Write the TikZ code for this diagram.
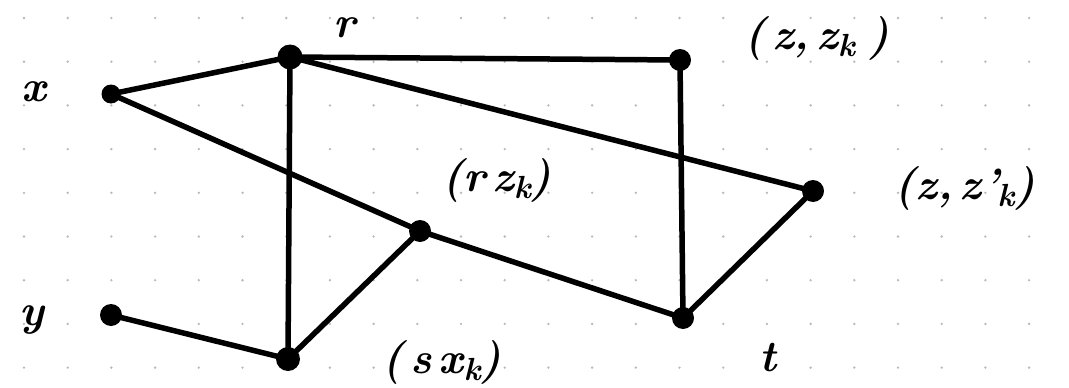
\documentclass[tikz,border=0pt]{standalone}
\usepackage{fontspec}
\newcommand{\lowk}[1]{\raisebox{-0.18em}{\fontsize{32}{32}\selectfont #1}}
\newcommand{\gp}{\hspace{7pt}}
\begin{document}
\begin{tikzpicture}[x=1pt,y=-1pt,
  vtx/.style={circle,fill=black,inner sep=0pt,minimum size=22pt},
  vsm/.style={circle,fill=black,inner sep=0pt,minimum size=19pt},
  edge/.style={line width=5.5pt,line cap=round},
  lbl/.style={font=\fontsize{44}{44}\selectfont\bfseries\itshape,inner sep=0pt}]
\useasboundingbox (0,0) rectangle (1069,388);
\fill[white] (0,0) rectangle (1069,388);
\foreach \i in {0,...,23}{\foreach \j in {0,...,8}{
  \fill[gray!55] (24+43.7*\i,18+43.7*\j) circle (1.3pt);}}
\node[vsm] (x) at (111,94) {};
\node[vtx,minimum size=25pt] (r) at (290,57) {};
\node[vtx] (zz) at (680,60) {};
\node[vtx] (zzp) at (813,191) {};
\node[vtx] (rz) at (420,231) {};
\node[vtx] (t) at (683,318) {};
\node[vtx,minimum size=24pt] (sx) at (288,359) {};
\node[vtx] (y) at (111,315) {};
\draw[edge] (x.center) -- (r.center);
\draw[edge] (x.center) -- (rz.center);
\draw[edge] (rz.center) -- (t.center);
\draw[edge] (r.center) -- (zz.center);
\draw[edge] (r.center) -- (zzp.center);
\draw[edge] (r.center) -- (sx.center);
\draw[edge] (zz.center) -- (t.center);
\draw[edge] (zzp.center) -- (t.center);
\draw[edge] (rz.center) -- (sx.center);
\draw[edge] (y.center) -- (sx.center);
\node[lbl] (lx) at (34,92) {x};
\node[lbl] (lr) at (345,28) {r};
\node[lbl] (lzz) at (817,38) {(\gp z,\gp z\lowk{k}\gp\gp)};
\node[lbl] (lzzp) at (965,188) {(z,\gp z\kern2pt'\kern-2pt\lowk{k})};
\node[lbl] (lrz) at (497,180) {(r\gp z\lowk{k})};
\node[lbl] (lsx) at (442,362) {(\gp s\gp x\lowk{k})};
\node[lbl] (ly) at (32,320) {y};
\node[lbl] (lt) at (768,358) {t};
\end{tikzpicture}
\end{document}
